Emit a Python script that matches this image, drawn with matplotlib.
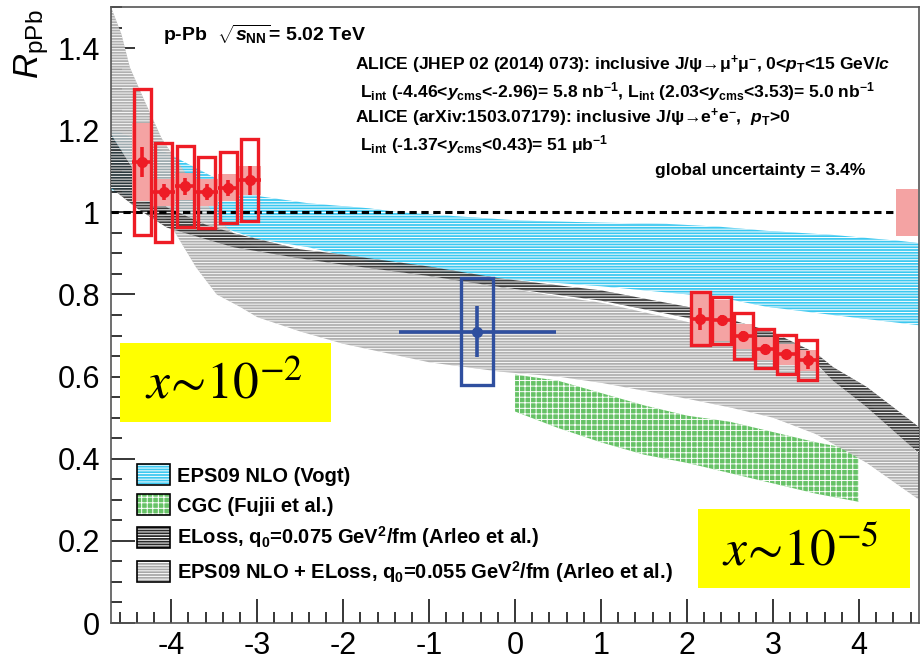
import numpy as np
import matplotlib
matplotlib.use('Agg')
import matplotlib.pyplot as plt
from matplotlib.patches import Patch, Rectangle
from matplotlib.legend_handler import HandlerTuple

plt.rcParams['font.family'] = ['Liberation Sans', 'DejaVu Sans']
plt.rcParams['mathtext.fontset'] = 'custom'
plt.rcParams['mathtext.rm'] = 'Liberation Sans:bold'
plt.rcParams['mathtext.it'] = 'Liberation Sans:bold:italic'
plt.rcParams['mathtext.bf'] = 'Liberation Sans:bold'
plt.rcParams['mathtext.sf'] = 'Liberation Sans'
plt.rcParams['mathtext.cal'] = 'Liberation Sans:italic'
plt.rcParams['hatch.linewidth'] = 0.7
plt.rcParams['axes.unicode_minus'] = False

# ALICE data: backward, mid, forward rapidity
y_bwd = [-4.335, -4.085, -3.835, -3.585, -3.335, -3.085]
r_bwd = [1.122, 1.049, 1.063, 1.049, 1.060, 1.078]
stat_bwd = [0.036, 0.02, 0.02, 0.02, 0.02, 0.035]
syst_bwd = [0.178, 0.12, 0.098, 0.087, 0.087, 0.10]
corr_bwd = [0.095, 0.033, 0.033, 0.033, 0.033, 0.035]

y_fwd = [2.155, 2.405, 2.655, 2.905, 3.155, 3.405]
r_fwd = [0.741, 0.737, 0.698, 0.668, 0.654, 0.640]
stat_fwd = [0.027, 0.012, 0.012, 0.012, 0.012, 0.022]
syst_fwd = [0.065, 0.058, 0.056, 0.048, 0.047, 0.048]
corr_fwd = [0.062, 0.05, 0.03, 0.028, 0.026, 0.026]

y_mid = [-0.44]
r_mid = [0.709]
stat_mid = [0.062]
syst_mid = [0.13]
xerr_mid = [0.915]

glob_x = [4.56]
glob_unc = [0.058]

# model bands
eps_x = [-4.7, -4.1, -3.5, -3.0, -2.4, -1.7, -1.34, -0.5, 0.06, 1.0, 1.76, 2.38, 2.93, 3.7, 4.5, 4.7]
eps_hi = [1.204, 1.15, 1.085, 1.04, 1.022, 1.01, 1.0, 0.988, 0.98, 0.975, 0.972, 0.965, 0.955, 0.945, 0.93, 0.925]
eps_lo = [1.053, 1.01, 0.97, 0.935, 0.915, 0.88, 0.866, 0.845, 0.835, 0.82, 0.805, 0.793, 0.77, 0.75, 0.73, 0.725]

cgc_x = [0.0, 0.5, 1.0, 1.5, 2.0, 2.5, 3.0, 3.5, 4.0]
cgc_hi = [0.605, 0.59, 0.56, 0.53, 0.505, 0.49, 0.465, 0.44, 0.42]
cgc_lo = [0.515, 0.475, 0.44, 0.41, 0.39, 0.365, 0.34, 0.315, 0.295]

eel_x = [-4.7, -4.58, -4.48, -4.31, -4.11, -3.95, -3.71, -3.47, -3.2, -3.0, -2.5, -2.0, -1.0,
         -0.17, 0.5, 1.0, 2.03, 2.5, 3.0, 3.5, 4.09, 4.7]
eel_hi = [1.50, 1.435, 1.353, 1.272, 1.18, 1.13, 1.06, 0.985, 0.935, 0.915, 0.888, 0.875, 0.845,
          0.818, 0.795, 0.78, 0.732, 0.71, 0.67, 0.625, 0.54, 0.41]
eel_lo = [1.19, 1.15, 1.11, 1.06, 1.0, 0.949, 0.866, 0.80, 0.77, 0.745, 0.71, 0.68, 0.635,
          0.612, 0.60, 0.585, 0.545, 0.525, 0.50, 0.46, 0.39, 0.30]

el_x = [-4.7, -4.4, -4.05, -3.6, -3.27, -2.5, -2.11, -1.0, -0.17, 1.0, 2.03, 3.0, 3.5, 3.7, 4.09, 4.7]
el_hi = [1.19, 1.09, 1.012, 0.97, 0.949, 0.91, 0.90, 0.868, 0.839, 0.81, 0.769, 0.708, 0.657, 0.623, 0.575, 0.477]
el_lo = [1.06, 1.01, 0.963, 0.935, 0.915, 0.888, 0.876, 0.845, 0.818, 0.785, 0.742, 0.675, 0.632, 0.59, 0.526, 0.413]

x_ticks = [-4, -3, -2, -1, 0, 1, 2, 3, 4]
y_ticks = [0, 0.2, 0.4, 0.6, 0.8, 1.0, 1.2, 1.4]
y_ticklabels = ['0', '0.2', '0.4', '0.6', '0.8', '1', '1.2', '1.4']

labels = ['EPS09 NLO (Vogt)',
          'CGC (Fujii et al.)',
          r'ELoss, q$_{0}$=0.075 GeV$^{2}$/fm (Arleo et al.)',
          r'EPS09 NLO + ELoss, q$_{0}$=0.055 GeV$^{2}$/fm (Arleo et al.)']

red = '#ee1c25'
pink = '#f4a3a3'
blue = '#2f4f9f'
c_eps = '#3cc8f0'
c_cgc = '#66c266'
c_eel = '#a8a8a8'
c_el = '#2a2a2a'

fig = plt.figure(figsize=(9.21, 6.63), dpi=100)
ax = fig.add_axes([0.1205, 0.0603, 0.8775, 0.9291])

ax.fill_between(eps_x, eps_lo, eps_hi, facecolor=c_eps, edgecolor='white', hatch='------', lw=0, zorder=1)
ax.fill_between(cgc_x, cgc_lo, cgc_hi, facecolor=c_cgc, edgecolor='white', hatch='+++', lw=0, zorder=1)
ax.fill_between(eel_x, eel_lo, eel_hi, facecolor=c_eel, edgecolor='white', hatch='------', lw=0, zorder=2, alpha=0.9)
ax.fill_between(el_x, el_lo, el_hi, facecolor=c_el, edgecolor='white', hatch='------', lw=0, zorder=3, alpha=0.9)

ax.axhline(1.0, color='black', ls=(0, (2.4, 1.5)), lw=2.2, zorder=4)

# correlated syst (filled) and uncorrelated syst (open boxes)
ax.bar(y_bwd, 2 * np.array(corr_bwd), bottom=np.array(r_bwd) - corr_bwd, width=0.25,
       color=pink, lw=0, zorder=5)
ax.bar(y_fwd, 2 * np.array(corr_fwd), bottom=np.array(r_fwd) - corr_fwd, width=0.22,
       color=pink, lw=0, zorder=5)
ax.bar(y_bwd, 2 * np.array(syst_bwd), bottom=np.array(r_bwd) - syst_bwd, width=0.2,
       fill=False, edgecolor=red, lw=2.4, zorder=6)
ax.bar(y_fwd, 2 * np.array(syst_fwd), bottom=np.array(r_fwd) - syst_fwd, width=0.22,
       fill=False, edgecolor=red, lw=2.4, zorder=6)
ax.bar(y_mid, 2 * np.array(syst_mid), bottom=np.array(r_mid) - syst_mid, width=0.37,
       fill=False, edgecolor=blue, lw=2.4, zorder=6)
ax.bar(glob_x, 2 * np.array(glob_unc), bottom=1.0 - np.array(glob_unc), width=0.26,
       color=pink, lw=0, zorder=6)

ax.errorbar(y_bwd, r_bwd, yerr=stat_bwd, xerr=0.125, fmt='o', color=red, ms=7,
            elinewidth=2.6, capsize=0, zorder=7)
ax.errorbar(y_fwd, r_fwd, yerr=stat_fwd, xerr=0.125, fmt='o', color=red, ms=7,
            elinewidth=2.6, capsize=0, zorder=7)
ax.errorbar(y_mid, r_mid, yerr=stat_mid, xerr=xerr_mid, fmt='o', color=blue, ms=7,
            elinewidth=2.6, capsize=0, zorder=7)

ax.set_xlim(-4.7, 4.7)
ax.set_ylim(0, 1.5)
ax.set_xticks(x_ticks)
ax.set_xticks(np.arange(-4.6, 4.61, 0.2), minor=True)
ax.set_yticks(y_ticks)
ax.set_yticklabels(y_ticklabels)
ax.set_yticks(np.arange(0, 1.501, 0.05), minor=True)
ax.tick_params(which='major', direction='in', length=17, width=1.1, labelsize=22, pad=8)
ax.tick_params(axis='x', which='major', pad=6)
ax.tick_params(which='minor', direction='in', length=8, width=1.1)
for s in ax.spines.values():
    s.set_color('#555555')
    s.set_linewidth(1.2)

fig.text(0.034, 0.934, r'$\mathcal{R}_{\mathsf{pPb}}$', rotation=90, fontsize=25,
         ha='center', va='center')

ax.text(0.064, 0.955, r'p-Pb  $\sqrt{s_{\rm NN}}$= 5.02 TeV', transform=ax.transAxes,
        fontsize=14, fontweight='bold', va='center')
fs = 12.6
ax.text(0.302, 0.906, r'ALICE (JHEP 02 (2014) 073): inclusive J/ψ→μ$^{+}$μ$^{-}$, 0<$p_{\rm T}$<15 GeV/$c$',
        transform=ax.transAxes, fontsize=fs, fontweight='bold', va='center')
ax.text(0.308, 0.862, r'L$_{\rm int}$ (-4.46<$y_{\rm cms}$<-2.96)= 5.8 nb$^{-1}$, L$_{\rm int}$ (2.03<$y_{\rm cms}$<3.53)= 5.0 nb$^{-1}$',
        transform=ax.transAxes, fontsize=fs, fontweight='bold', va='center')
ax.text(0.302, 0.820, r'ALICE (arXiv:1503.07179): inclusive J/ψ→e$^{+}$e$^{-}$,  $p_{\rm T}$>0',
        transform=ax.transAxes, fontsize=fs, fontweight='bold', va='center')
ax.text(0.308, 0.776, r'L$_{\rm int}$ (-1.37<$y_{\rm cms}$<0.43)= 51 μb$^{-1}$',
        transform=ax.transAxes, fontsize=fs, fontweight='bold', va='center')
ax.text(0.673, 0.735, 'global uncertainty = 3.4%', transform=ax.transAxes,
        fontsize=fs, fontweight='bold', va='center')

# x ~ 10^-n labels
ax.add_patch(Rectangle((-4.6, 0.489), 2.463, 0.192, facecolor='yellow', edgecolor='none', zorder=8))
ax.add_patch(Rectangle((2.125, 0.085), 2.465, 0.192, facecolor='yellow', edgecolor='none', zorder=8))
ax.text(-4.31, 0.547, r'$x\!\sim\!10^{-2}$', math_fontfamily='stix', fontsize=37, zorder=9, va='baseline')
ax.text(2.41, 0.141, r'$x\!\sim\!10^{-5}$', math_fontfamily='stix', fontsize=37, zorder=9, va='baseline')

handles = []
for fc, h in [(c_eps, '------'), (c_cgc, '+++'), (c_el, '------'), (c_eel, '------')]:
    handles.append((Patch(facecolor=fc, edgecolor='white', hatch=h, lw=0),
                    Patch(facecolor='none', edgecolor='black', lw=1.2)))
leg = ax.legend(handles, labels, handler_map={tuple: HandlerTuple(ndivide=1, pad=0)},
                loc='upper left', bbox_to_anchor=(0.032, 0.258), frameon=False,
                fontsize=14.5, handlelength=1.63, handleheight=1.25, labelspacing=0.43,
                handletextpad=0.34, borderpad=0, borderaxespad=0)
for t in leg.get_texts():
    t.set_fontweight('bold')

fig.savefig('out.png', dpi=100)
